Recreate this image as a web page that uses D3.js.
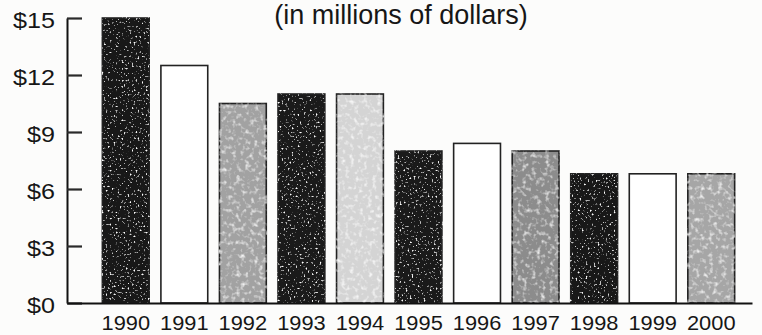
<!DOCTYPE html>
<html>
<head>
<meta charset="utf-8">
<script src="https://cdn.jsdelivr.net/npm/d3@7"></script>
<style>
  html, body { margin: 0; padding: 0; background: #fcfcfb; }
  svg { display: block; }
  text { font-family: "Liberation Sans", Arial, Helvetica, sans-serif; fill: #161616; }
</style>
</head>
<body>
<svg id="chart" width="762" height="335"></svg>
<script>
// Annual amounts, in millions of dollars
const years = ["1990", "1991", "1992", "1993", "1994", "1995", "1996", "1997", "1998", "1999", "2000"];
const amounts = [15, 12.5, 10.5, 11, 11, 8, 8.4, 8, 6.8, 6.8, 6.8];
const yTicks = [0, 3, 6, 9, 12, 15];
const subtitle = "(in millions of dollars)";

// Bar shading, one per year, repeating dark / white / grey pattern
const shades = ["#181818", "#ffffff", "#a2a2a2", "#1a1a1a", "#d4d4d4", "#1a1a1a",
                "#ffffff", "#8c8c8c", "#181818", "#ffffff", "#a6a6a6"];
const textures = ["grain", "none", "mottle", "grain", "mottle", "grain",
                  "none", "mottle", "grain", "none", "mottle"];

const svg = d3.select("#chart");
const plot = { left: 67, right: 752, top: 18, bottom: 303 };

// Printed-paper textures for the bars
const defs = svg.append("defs");
function textureFilter(id, freq, octaves, seed, alphaRow) {
  const f = defs.append("filter").attr("id", id)
    .attr("x", "-10%").attr("y", "-2%").attr("width", "120%").attr("height", "104%")
    .attr("color-interpolation-filters", "sRGB");
  f.append("feTurbulence").attr("type", "fractalNoise").attr("baseFrequency", freq)
    .attr("numOctaves", octaves).attr("seed", seed).attr("result", "noise");
  f.append("feColorMatrix").attr("in", "noise").attr("type", "matrix")
    .attr("values", "0 0 0 0 1  0 0 0 0 1  0 0 0 0 1  " + alphaRow).attr("result", "marks");
  f.append("feComposite").attr("in", "marks").attr("in2", "SourceGraphic")
    .attr("operator", "in").attr("result", "clipped");
  const m = f.append("feMerge");
  m.append("feMergeNode").attr("in", "SourceGraphic");
  m.append("feMergeNode").attr("in", "clipped");
}
textureFilter("grain", 0.5, 2, 7, "7 0 0 0 -4.3");
textureFilter("mottle", 0.22, 2, 3, "2.2 0 0 0 -1.1");

// Scales
const x = d3.scaleBand()
  .domain(years)
  .range([plot.left, plot.right])
  .paddingInner(0.2)
  .paddingOuter(0.45)
  .align(0.671);

const y = d3.scaleLinear()
  .domain([0, d3.max(yTicks)])
  .range([plot.bottom, plot.top]);

const shadeOf = d3.scaleOrdinal().domain(years).range(shades);
const textureOf = d3.scaleOrdinal().domain(years).range(textures);

// Bars
svg.append("g")
  .selectAll("rect")
  .data(years.map((yr, i) => ({ year: yr, value: amounts[i] })))
  .join("rect")
  .attr("x", d => x(d.year))
  .attr("y", d => y(d.value))
  .attr("width", x.bandwidth())
  .attr("height", d => y(0) - y(d.value))
  .attr("fill", d => shadeOf(d.year))
  .attr("stroke", "#222")
  .attr("stroke-width", 1.6)
  .attr("filter", d => textureOf(d.year) === "none" ? null : `url(#${textureOf(d.year)})`);

// Y axis: ticks point inward, labels to the left
const yLabelScale = 1.17;
const yAxis = svg.append("g")
  .attr("transform", `translate(${plot.left},0)`)
  .call(d3.axisLeft(y)
    .tickValues(yTicks)
    .tickFormat(d => "$" + d)
    .tickSizeInner(-15)
    .tickSizeOuter(0)
    .tickPadding(12));
yAxis.select(".domain").attr("stroke", "#111").attr("stroke-width", 2);
yAxis.selectAll(".tick line").attr("stroke", "#2a2a2a").attr("stroke-width", 2.2);
yAxis.selectAll(".tick text")
  .attr("font-size", 21.5)
  .attr("fill", null)
  .attr("dy", "0.43em")
  .attr("x", -12 / yLabelScale)
  .attr("transform", `scale(${yLabelScale},1)`);

// X axis: baseline with year labels
const xLabelScale = 1.12;
const xAxis = svg.append("g")
  .attr("transform", `translate(0,${plot.bottom})`)
  .call(d3.axisBottom(x)
    .tickSizeInner(0)
    .tickSizeOuter(0)
    .tickPadding(13));
xAxis.select(".domain").attr("stroke", "#111").attr("stroke-width", 2);
xAxis.selectAll(".tick text")
  .attr("font-size", 19.5)
  .attr("fill", null)
  .attr("transform", `scale(${xLabelScale},1)`);

// Subtitle
svg.append("text")
  .attr("x", 401)
  .attr("y", 24)
  .attr("text-anchor", "middle")
  .attr("font-size", 27)
  .text(subtitle);
</script>
</body>
</html>
